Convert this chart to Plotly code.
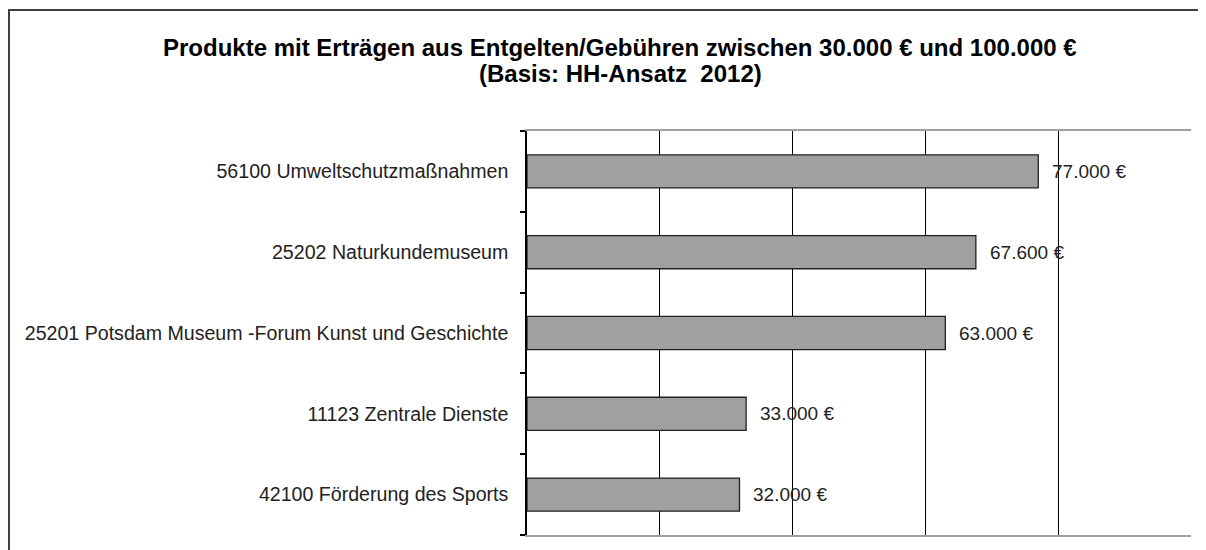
import plotly.graph_objects as go

categories = [
    "42100 Förderung des Sports",
    "11123 Zentrale Dienste",
    "25201 Potsdam Museum -Forum Kunst und Geschichte",
    "25202 Naturkundemuseum",
    "56100 Umweltschutzmaßnahmen",
]
values = [32000, 33000, 63000, 67600, 77000]
value_labels = ["32.000 €", "33.000 €", "63.000 €", "67.600 €", "77.000 €"]
x_ticks = [0, 20000, 40000, 60000, 80000, 100000]

title_lines = [
    "Produkte mit Erträgen aus Entgelten/Gebühren zwischen 30.000 € und 100.000 €",
    "(Basis: HH-Ansatz  2012)",
]

FONT = "Liberation Sans, Arial, sans-serif"
OFF = 8  # browser body margin

W, H = 1206 - OFF, 550 - OFF
L, T = 527 - OFF, 131 - OFF
R = W - (1191 - OFF)
B = H - (535 - OFF)
pw, ph = W - L - R, H - T - B

fig = go.Figure()
fig.add_trace(go.Bar(
    y=categories,
    x=values,
    orientation="h",
    marker=dict(color="#a0a0a0", line=dict(color="#202020", width=1.3)),
    hoverinfo="skip",
))

for c, v, t in zip(categories, values, value_labels):
    fig.add_annotation(
        x=v, y=c, text=t, xref="x", yref="y",
        xanchor="left", yanchor="middle", xshift=12, showarrow=False,
        font=dict(family=FONT, size=19, color="#222222"),
    )

# title lines
for line, py in zip(title_lines, [47, 73]):
    fy = py - OFF
    fig.add_annotation(
        x=(620 - OFF - L) / pw, y=(H - B - fy) / ph, xref="paper", yref="paper",
        text="<b>" + line + "</b>", showarrow=False,
        xanchor="center", yanchor="middle",
        font=dict(family=FONT, size=24, color="#000000"),
    )

# outer chart frame
fig.add_shape(
    type="rect", xref="paper", yref="paper",
    x0=(9 - OFF - L) / pw, x1=(W + 20 - L) / pw,
    y0=-(20 + B) / ph, y1=(H - B - (10 - OFF)) / ph,
    line=dict(color="#404040", width=2), fillcolor="rgba(0,0,0,0)", layer="below",
)

fig.update_layout(
    width=W, height=H,
    margin=dict(l=L, r=R, t=T, b=B, pad=0),
    paper_bgcolor="white", plot_bgcolor="white",
    showlegend=False,
    bargap=0.59,
    font=dict(family=FONT, size=19, color="#222222"),
    xaxis=dict(
        range=[0, 100000], tickvals=x_ticks, showticklabels=False,
        showgrid=True, gridcolor="#000000", gridwidth=1.3,
        zeroline=False, showline=True, linecolor="#a0a0a0", linewidth=2, mirror=True,
        ticks="",
    ),
    yaxis=dict(
        type="category", showgrid=False, zeroline=False,
        showline=True, linecolor="#000000", linewidth=1.5,
        ticks="outside", ticklen=5, tickcolor="#000000", tickwidth=1.5,
        tickson="boundaries", ticklabelstandoff=13,
        tickfont=dict(family=FONT, size=19.6, color="#222222"),
    ),
)

fig.write_html("out.html")
